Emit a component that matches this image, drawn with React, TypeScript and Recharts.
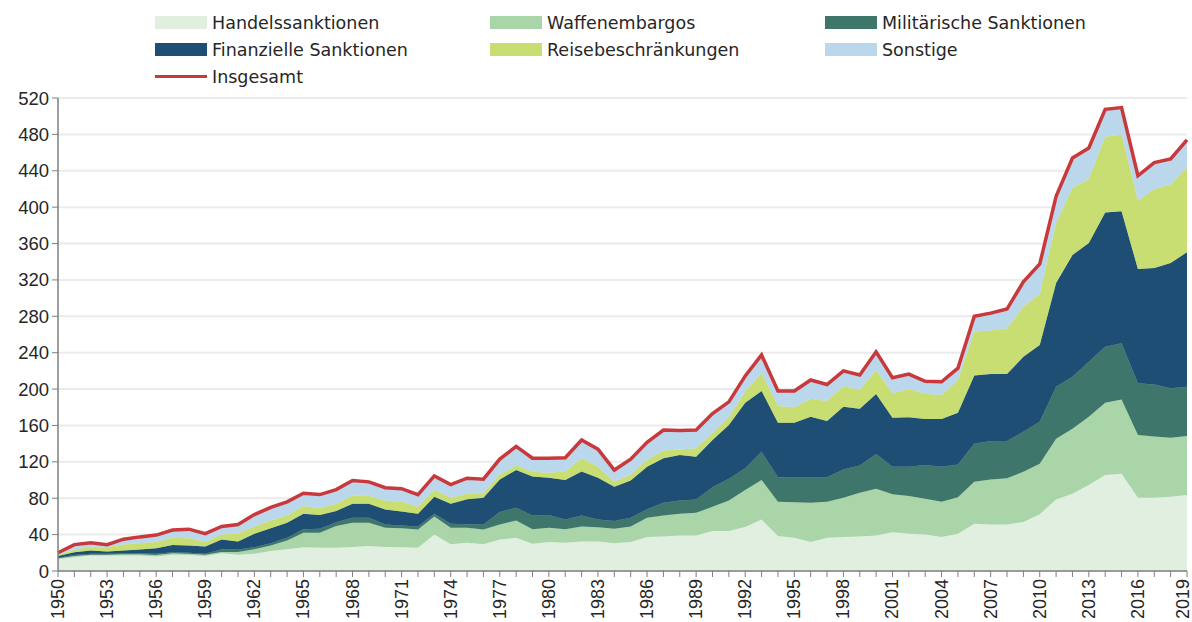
import React from 'react';
import { ComposedChart, Area, Line, XAxis, YAxis, CartesianGrid, Legend } from 'recharts';

const years = [
  1950, 1951, 1952, 1953, 1954, 1955, 1956, 1957, 1958, 1959,
  1960, 1961, 1962, 1963, 1964, 1965, 1966, 1967, 1968, 1969,
  1970, 1971, 1972, 1973, 1974, 1975, 1976, 1977, 1978, 1979,
  1980, 1981, 1982, 1983, 1984, 1985, 1986, 1987, 1988, 1989,
  1990, 1991, 1992, 1993, 1994, 1995, 1996, 1997, 1998, 1999,
  2000, 2001, 2002, 2003, 2004, 2005, 2006, 2007, 2008, 2009,
  2010, 2011, 2012, 2013, 2014, 2015, 2016, 2017, 2018, 2019,
];

const labelYears = [
  1950, 1953, 1956, 1959, 1962, 1965, 1968, 1971, 1974, 1977, 1980, 1983,
  1986, 1989, 1992, 1995, 1998, 2001, 2004, 2007, 2010, 2013, 2016, 2019,
];

const yTicks = [0, 40, 80, 120, 160, 200, 240, 280, 320, 360, 400, 440, 480, 520];

const handel = [
  13, 15, 17, 17, 17, 17, 16, 18, 17.5, 16.5,
  19.5, 18, 19, 22, 24, 26, 25.5, 25.5, 26.5, 27.5,
  26.5, 26, 25.5, 40, 29.5, 31, 29.5, 34.5, 36.5, 30,
  32, 31, 32.5, 32.5, 30.5, 32, 37.5, 38, 39, 39,
  44, 44, 48.5, 56.5, 38.5, 36.5, 32, 36.5, 37.5, 38,
  39, 42.5, 41, 40, 37.5, 41, 52, 51, 51, 54,
  62.5, 78.5, 85, 94.5, 105.5, 107, 80.5, 80.5, 81.5, 83.5,
];
const waffen = [
  1, 1.5, 1, 1, 1.5, 1.5, 1.5, 1.5, 1.5, 1.5,
  1.5, 3, 5, 6, 9.5, 16, 16.5, 24, 26.5, 25.5,
  21, 21, 20, 20, 18, 16.5, 16, 16.5, 19, 16,
  15.5, 15, 16.5, 15.5, 16, 17, 21, 23, 24, 25,
  26.5, 33.5, 40.5, 43.5, 37.5, 39, 43, 39.5, 43, 48,
  51.5, 42, 41.5, 39.5, 38.5, 40, 46, 49.5, 51, 55,
  55.5, 67, 71.5, 75, 79.5, 81.5, 69, 67.5, 65, 65,
];
const militaer = [
  0.5, 1, 1, 1, 1, 1, 1.5, 1, 1, 1,
  3, 2.5, 2, 2.5, 3, 4, 4.5, 4, 5.5, 5.5,
  3.5, 3, 3.5, 3, 4.5, 4, 5.5, 14, 14, 15,
  14, 10.5, 12, 8.5, 8.5, 9.5, 9.5, 14, 14.5, 14.5,
  21.5, 24, 24, 31, 27, 27.5, 28, 27, 31, 30,
  38, 30, 32, 37, 38.5, 36, 42, 42.5, 41, 44,
  46, 57, 57, 60.5, 61.5, 62, 57, 57, 54.5, 54,
];
const finanz = [
  2, 3, 3.5, 2.5, 3, 4, 6, 8, 8, 8,
  10.5, 9, 15, 16.5, 16.5, 17, 15, 12.5, 15.5, 15.5,
  16.5, 15.5, 14, 18.5, 22, 27.5, 29.5, 35.5, 41.5, 43,
  41, 43.5, 48.5, 46, 37.5, 41, 46.5, 49, 50, 47,
  52, 59, 72, 67, 60, 60, 66.5, 62, 69, 62.5,
  66, 54, 54.5, 50.5, 52.5, 57, 75, 73.5, 73.5, 82.5,
  84.5, 114, 134, 130.5, 147.5, 145, 125.5, 128, 137.5, 148,
];
const reise = [
  1.5, 3, 3.5, 4.5, 6.5, 7, 7, 8, 8, 5,
  5.5, 9, 8, 8.5, 8, 8.5, 7.5, 8, 9, 8.5,
  10, 10.5, 7.5, 7.5, 6.5, 6, 5, 5.5, 5, 5,
  5.5, 9.5, 14.5, 12, 5.5, 6.5, 7.5, 8.5, 6, 9.5,
  8, 9, 12, 19.5, 18.5, 17, 20, 22, 23, 20.5,
  26.5, 27, 31, 28, 26.5, 36, 48, 48, 50, 55,
  56, 66, 73.5, 70.5, 83.5, 84.5, 75, 87, 86.5, 93,
];
const sonstige = [
  2, 5.5, 5, 3, 6, 7, 7.5, 8.5, 10, 9,
  9, 9.5, 13, 14.5, 15, 14, 15, 15.5, 16.5, 15.5,
  14, 14.5, 13.5, 15.5, 14.5, 17, 15.5, 17, 21, 15,
  16, 15, 20, 19.5, 13, 17, 19.5, 22.5, 21, 20,
  21, 16.5, 17.5, 20, 16.5, 18, 20.5, 18, 16.5, 16.5,
  20, 17, 16.5, 13.5, 14.5, 13, 17, 19, 21.5, 27.5,
  33, 29.5, 33, 34, 30, 29.5, 27.5, 29, 28, 30.5,
];
const insgesamt = [
  20, 29, 31, 29, 35, 37.5, 39.5, 45, 46, 41,
  49, 51, 62, 70, 76, 85.5, 84, 89.5, 99.5, 98,
  91.5, 90.5, 84, 104.5, 95, 102, 101, 123, 137, 124,
  124, 124.5, 144, 134, 111, 123, 141.5, 155, 154.5, 155,
  173, 186, 214.5, 237.5, 198, 198, 210, 205, 220, 215.5,
  241, 212.5, 216.5, 208.5, 208, 223, 280, 283.5, 288, 318,
  337.5, 412, 454, 465, 507.5, 509.5, 434.5, 449, 453, 474,
];

const series = [
  { key: 'handel', name: 'Handelssanktionen', color: '#e1efe1', values: handel },
  { key: 'waffen', name: 'Waffenembargos', color: '#a9d5a8', values: waffen },
  { key: 'militaer', name: 'Militärische Sanktionen', color: '#3e766b', values: militaer },
  { key: 'finanz', name: 'Finanzielle Sanktionen', color: '#1f4e75', values: finanz },
  { key: 'reise', name: 'Reisebeschränkungen', color: '#c8de72', values: reise },
  { key: 'sonstige', name: 'Sonstige', color: '#bad7ec', values: sonstige },
];
const totalColor = '#c9393b';

const data = years.map((year, i) => {
  const row: Record<string, number> = { year, insgesamt: insgesamt[i] };
  series.forEach((s) => {
    row[s.key] = s.values[i];
  });
  return row;
});

const FONT = '"Liberation Sans", Arial, sans-serif';
const LEGEND_FONT = '"DejaVu Sans", "Liberation Sans", sans-serif';
const TEXT = '#262626';

const XTick = (props: any) => {
  const { x, y, payload } = props;
  if (!labelYears.includes(payload.value)) return null;
  const isLast = payload.value === labelYears[labelYears.length - 1];
  const cx = isLast ? x - 4 : x;
  return (
    <text
      x={cx}
      y={y}
      transform={`rotate(-90, ${cx}, ${y})`}
      textAnchor="end"
      dominantBaseline="central"
      fontFamily={FONT}
      fontSize={18}
      fill={TEXT}
    >
      {payload.value}
    </text>
  );
};

const LegendContent = () => {
  const items = [
    ...series.map((s) => ({ name: s.name, color: s.color, line: false })),
    { name: 'Insgesamt', color: totalColor, line: true },
  ];
  return (
    <div style={{ display: 'flex', flexWrap: 'wrap', width: 1005 }}>
      {items.map((it) => (
        <div
          key={it.name}
          style={{ width: 335, height: 27, display: 'flex', alignItems: 'center' }}
        >
          <div
            style={{
              width: 52,
              height: it.line ? 3 : 13,
              background: it.color,
              marginRight: 5,
            }}
          />
          <span style={{ fontFamily: LEGEND_FONT, fontSize: 17.5, color: TEXT }}>{it.name}</span>
        </div>
      ))}
    </div>
  );
};

export default function App() {
  return (
    <div style={{ position: 'absolute', left: 0, top: 0, background: '#fff' }}>
      <ComposedChart
        width={1192}
        height={622}
        data={data}
        margin={{ top: 98, right: 5, bottom: 0, left: 0 }}
      >
        <CartesianGrid vertical={false} stroke="#ebebeb" strokeWidth={2} />
        <XAxis
          dataKey="year"
          interval={0}
          tick={<XTick />}
          tickSize={6}
          tickMargin={2}
          height={51}
          stroke="#7f7f7f"
          tickLine={{ stroke: '#7f7f7f' }}
          axisLine={{ stroke: '#7f7f7f', strokeWidth: 1.5 }}
        />
        <YAxis
          domain={[0, 520]}
          ticks={yTicks}
          interval={0}
          width={58}
          tickSize={6}
          tickMargin={3}
          stroke="#7f7f7f"
          axisLine={{ stroke: '#7f7f7f', strokeWidth: 1.5 }}
          tick={{ fontFamily: FONT, fontSize: 18.5, fill: TEXT }}
        />
        <Legend
          layout="horizontal"
          verticalAlign="middle"
          align="center"
          content={<LegendContent />}
          wrapperStyle={{ position: 'absolute', top: 9, left: 155, width: 1005 }}
        />
        {series.map((s) => (
          <Area
            key={s.key}
            type="linear"
            dataKey={s.key}
            name={s.name}
            stackId="1"
            stroke={s.color}
            strokeWidth={0.5}
            fill={s.color}
            fillOpacity={1}
            isAnimationActive={false}
          />
        ))}
        <Line
          type="linear"
          dataKey="insgesamt"
          name="Insgesamt"
          stroke={totalColor}
          strokeWidth={3.5}
          dot={false}
          isAnimationActive={false}
        />
      </ComposedChart>
    </div>
  );
}
